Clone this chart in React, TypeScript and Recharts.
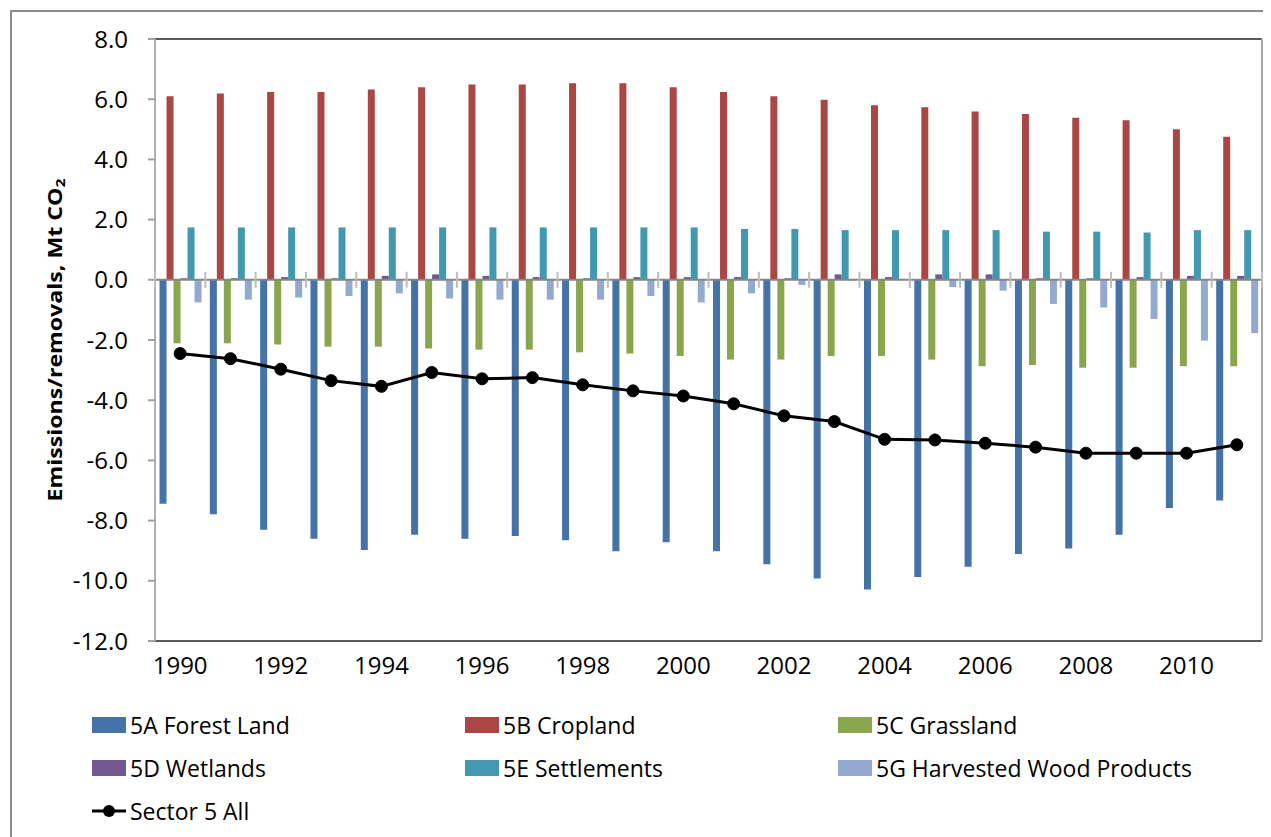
import {
  ComposedChart,
  Bar,
  Line,
  XAxis,
  YAxis,
  Legend,
  ReferenceLine,
} from 'recharts';

const years = [
  '1990', '1991', '1992', '1993', '1994', '1995', '1996', '1997', '1998', '1999', '2000',
  '2001', '2002', '2003', '2004', '2005', '2006', '2007', '2008', '2009', '2010', '2011',
];

const forestLand = [
  -7.44, -7.79, -8.3, -8.6, -8.98, -8.47, -8.6, -8.51, -8.65, -9.02, -8.72,
  -9.02, -9.45, -9.92, -10.29, -9.87, -9.53, -9.11, -8.93, -8.47, -7.58, -7.33,
];
const cropland = [
  6.1, 6.19, 6.24, 6.24, 6.32, 6.4, 6.49, 6.49, 6.53, 6.53, 6.4,
  6.24, 6.1, 5.98, 5.8, 5.73, 5.59, 5.51, 5.38, 5.3, 5.0, 4.75,
];
const grassland = [
  -2.11, -2.11, -2.15, -2.22, -2.22, -2.28, -2.32, -2.32, -2.41, -2.45, -2.53,
  -2.65, -2.65, -2.53, -2.53, -2.65, -2.87, -2.83, -2.92, -2.92, -2.87, -2.87,
];
const wetlands = [
  0.05, 0.05, 0.09, 0.05, 0.13, 0.18, 0.13, 0.09, 0.05, 0.09, 0.09,
  0.09, 0.05, 0.18, 0.09, 0.18, 0.18, 0.05, 0.05, 0.09, 0.13, 0.13,
];
const settlements = [
  1.74, 1.74, 1.74, 1.74, 1.74, 1.74, 1.74, 1.74, 1.74, 1.74, 1.74,
  1.69, 1.69, 1.65, 1.65, 1.65, 1.65, 1.6, 1.6, 1.57, 1.65, 1.65,
];
const woodProducts = [
  -0.75, -0.66, -0.59, -0.54, -0.45, -0.62, -0.66, -0.66, -0.66, -0.54, -0.75,
  -0.45, -0.17, -0.02, 0.03, -0.24, -0.36, -0.8, -0.92, -1.3, -2.02, -1.77,
];
const sectorAll = [
  -2.45, -2.62, -2.97, -3.35, -3.54, -3.08, -3.29, -3.25, -3.49, -3.69, -3.86,
  -4.12, -4.52, -4.71, -5.3, -5.32, -5.43, -5.56, -5.76, -5.76, -5.76, -5.48,
];

const yTicks = [8, 6, 4, 2, 0, -2, -4, -6, -8, -10, -12];

const series = [
  { key: 'forest', name: '5A Forest Land', color: '#4572A7' },
  { key: 'crop', name: '5B Cropland', color: '#AA4643' },
  { key: 'grass', name: '5C Grassland', color: '#89A54E' },
  { key: 'wet', name: '5D Wetlands', color: '#71588F' },
  { key: 'settle', name: '5E Settlements', color: '#4198AF' },
  { key: 'hwp', name: '5G Harvested Wood Products', color: '#93A9CF' },
];

const data = years.map((year, i) => ({
  year,
  forest: forestLand[i],
  crop: cropland[i],
  grass: grassland[i],
  wet: wetlands[i],
  settle: settlements[i],
  hwp: woodProducts[i],
  all: sectorAll[i],
}));

const FONT = '"Open Sans", sans-serif';
const CHART_W = 1254;
const CHART_H = 826;
const LEFT = 143;
const RIGHT = 4;
const TOP = 26;
const TOP_AXIS_H = 1;
const X_AXIS_H = 47;
const LEGEND_H = 150;
const PLOT_W = CHART_W - LEFT - RIGHT;
const PLOT_TOP = TOP + TOP_AXIS_H;
const PLOT_H = CHART_H - PLOT_TOP - X_AXIS_H - LEGEND_H;
const BAND = PLOT_W / years.length;
const ZERO_Y = PLOT_TOP + (PLOT_H * 8) / 20;

// Excel-style "cross" tick marks on the zero line, between categories
function renderZeroTick(props: any) {
  const { x, index } = props;
  const left = x - BAND / 2;
  return (
    <g key={`zt-${index}`}>
      <line x1={left} x2={left} y1={ZERO_Y - 8} y2={ZERO_Y + 8} stroke="#bdbdbd" strokeWidth={2} />
      {index === years.length - 1 && (
        <line x1={left + BAND} x2={left + BAND} y1={ZERO_Y - 8} y2={ZERO_Y + 8} stroke="#bdbdbd" strokeWidth={2} />
      )}
    </g>
  );
}

function YTitle(props: any) {
  const vb = props.viewBox || {};
  const cx = 43;
  const cy = (vb.y ?? PLOT_TOP) + (vb.height ?? PLOT_H) / 2;
  return (
    <text
      x={cx}
      y={cy}
      transform={`rotate(-90, ${cx}, ${cy})`}
      textAnchor="middle"
      dominantBaseline="central"
      fontFamily={FONT}
      fontSize={19}
      fontWeight={700}
      fill="#000"
      textLength={323}
      lengthAdjust="spacingAndGlyphs"
    >
      Emissions/removals, Mt CO
      <tspan fontSize={13} dy={5}>2</tspan>
    </text>
  );
}

function LegendBox() {
  const cell = { display: 'flex', alignItems: 'center', height: 43 } as const;
  const label = { marginLeft: 4, fontFamily: FONT, fontSize: 23, color: '#000', whiteSpace: 'nowrap' } as const;
  return (
    <div style={{ height: LEGEND_H, paddingTop: 15, paddingLeft: 80, boxSizing: 'border-box' }}>
      <div style={{ display: 'grid', gridTemplateColumns: '373px 373px 373px' }}>
        {series.map((s) => (
          <div key={s.key} style={cell}>
            <span style={{ width: 34, height: 16, background: s.color, display: 'inline-block' }} />
            <span style={label}>{s.name}</span>
          </div>
        ))}
        <div style={cell}>
          <svg width={34} height={16}>
            <line x1={0} x2={34} y1={8} y2={8} stroke="#000" strokeWidth={3} />
            <circle cx={17} cy={8} r={6} fill="#000" />
          </svg>
          <span style={label}>Sector 5 All</span>
        </div>
      </div>
    </div>
  );
}

export default function App() {
  return (
    <div style={{ paddingTop: 2, paddingLeft: 2 }}>
      <div style={{ width: CHART_W, height: 840, border: '2px solid #8c8c8c', background: '#fff' }}>
        <ComposedChart
          width={CHART_W}
          height={CHART_H}
          data={data}
          margin={{ top: TOP, right: 0, left: 0, bottom: 0 }}
          barCategoryGap="9%"
          barGap={0}
        >
          <XAxis
            dataKey="year"
            interval={1}
            height={X_AXIS_H}
            tickLine={false}
            tickSize={0}
            tickMargin={16}
            axisLine={{ stroke: '#595959', strokeWidth: 2 }}
            tick={{ fill: '#000', fontSize: 24, fontFamily: FONT }}
          />
          <XAxis
            xAxisId="zero"
            dataKey="year"
            orientation="top"
            height={TOP_AXIS_H}
            interval={0}
            axisLine={false}
            tickLine={false}
            tick={renderZeroTick}
          />
          <YAxis
            domain={[-12, 8]}
            ticks={yTicks}
            width={LEFT}
            tickSize={7}
            tickMargin={20}
            tickFormatter={(v: number) => v.toFixed(1)}
            axisLine={{ stroke: '#b0b0b0', strokeWidth: 2 }}
            tickLine={{ stroke: '#a0a0a0', strokeWidth: 2 }}
            tick={{ fill: '#000', fontSize: 24, fontFamily: FONT }}
            allowDataOverflow
            label={<YTitle />}
          />
          <YAxis
            yAxisId="right"
            orientation="right"
            domain={[-12, 8]}
            width={RIGHT}
            tick={false}
            tickLine={false}
            axisLine={{ stroke: '#a6a6a6', strokeWidth: 2 }}
          />
          <ReferenceLine y={8} stroke="#595959" strokeWidth={2} />
          {series.map((s) => (
            <Bar key={s.key} dataKey={s.key} name={s.name} fill={s.color} isAnimationActive={false} />
          ))}
          <ReferenceLine y={0} stroke="#868686" strokeWidth={2} />
          <Line
            dataKey="all"
            name="Sector 5 All"
            stroke="#000"
            strokeWidth={3}
            dot={{ r: 6, fill: '#000', stroke: '#000', strokeWidth: 1 }}
            isAnimationActive={false}
          />
          <Legend verticalAlign="bottom" height={LEGEND_H} content={<LegendBox />} wrapperStyle={{ left: 0 }} />
        </ComposedChart>
      </div>
    </div>
  );
}
